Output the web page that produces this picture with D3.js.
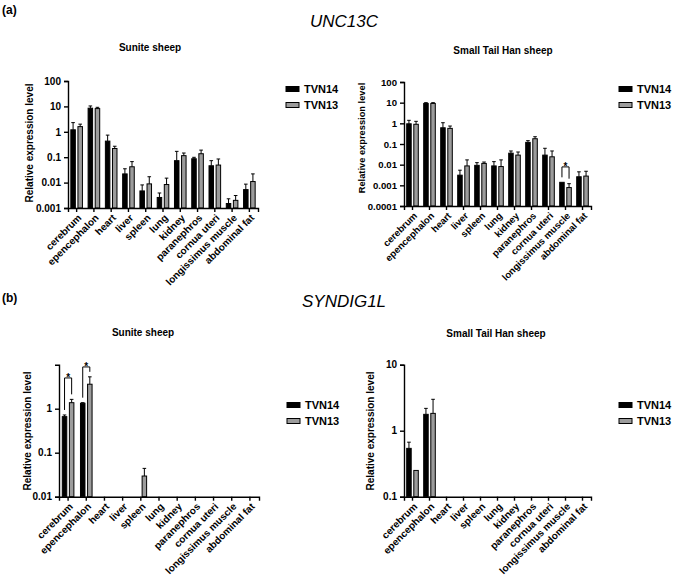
<!DOCTYPE html>
<html>
<head>
<meta charset="utf-8">
<script src="https://cdn.jsdelivr.net/npm/d3@7"></script>
<style>
  html, body { margin: 0; padding: 0; background: #fff; }
  svg { display: block; font-family: "Liberation Sans", Arial, sans-serif; }
</style>
</head>
<body>
<svg id="chart" width="689" height="578"></svg>
<script>
// ---------------- DATA ----------------
const categories = ["cerebrum", "epencephalon", "heart", "liver", "spleen", "lung", "kidney", "paranephros", "cornua uteri", "longissimus muscle", "abdominal fat"];
const seriesNames = ["TVN14", "TVN13"];

// UNC13C - Sunite sheep
const unc13cSuniteTVN14    = [1.2, 8.5, 0.43, 0.022, 0.0047, 0.0026, 0.073, 0.087, 0.046, 0.0015, 0.0053];
const unc13cSuniteTVN14Err = [2.3, 10.4, 0.74, 0.035, 0.0081, 0.0039, 0.17, 0.099, 0.073, 0.0023, 0.0087];
const unc13cSuniteTVN13    = [1.6, 8.2, 0.22, 0.042, 0.0089, 0.0084, 0.115, 0.137, 0.049, 0.0020, 0.011];
const unc13cSuniteTVN13Err = [2.0, 9.2, 0.27, 0.067, 0.017, 0.015, 0.146, 0.19, 0.085, 0.0031, 0.022];

// UNC13C - Small Tail Han sheep
const unc13cSTHTVN14    = [0.95, 9.2, 0.61, 0.0031, 0.0093, 0.0087, 0.036, 0.12, 0.029, 0.0014, 0.0026];
const unc13cSTHTVN14Err = [1.4, 10.0, 1.07, 0.0054, 0.0125, 0.014, 0.046, 0.145, 0.062, null, 0.0045];
const unc13cSTHTVN13    = [0.9, 9.2, 0.57, 0.0087, 0.0115, 0.0081, 0.029, 0.18, 0.024, 0.00078, 0.0028];
const unc13cSTHTVN13Err = [1.25, 10.0, 0.74, 0.017, 0.0134, 0.017, 0.041, 0.225, 0.046, 0.0012, 0.0048];

// SYNDIG1L - Sunite sheep
const syndigSuniteTVN14    = [0.66, 1.33, null, null, null, null, null, null, null, null, null];
const syndigSuniteTVN14Err = [0.72, 1.37, null, null, null, null, null, null, null, null, null];
const syndigSuniteTVN13    = [1.37, 3.6, null, null, 0.0295, null, null, null, null, null, null];
const syndigSuniteTVN13Err = [1.63, 5.3, null, null, 0.044, null, null, null, null, null, null];

// SYNDIG1L - Small Tail Han sheep
const syndigSTHTVN14    = [0.54, 1.77, null, null, null, null, null, null, null, null, null];
const syndigSTHTVN14Err = [0.67, 2.18, null, null, null, null, null, null, null, null, null];
const syndigSTHTVN13    = [0.25, 1.83, null, null, null, null, null, null, null, null, null];
const syndigSTHTVN13Err = [null, 2.99, null, null, null, null, null, null, null, null, null];

// tick values / labels
const ticksA1 = [100, 10, 1, 0.1, 0.01, 0.001];
const tickLabelsA1 = ["100", "10", "1", "0.1", "0.01", "0.001"];
const ticksA2 = [100, 10, 1, 0.1, 0.01, 0.001, 0.0001];
const tickLabelsA2 = ["100", "10", "1", "0.1", "0.01", "0.001", "0.0001"];
const ticksB1 = [1, 0.1, 0.01];
const tickLabelsB1 = ["1", "0.1", "0.01"];
const ticksB2 = [10, 1, 0.1];
const tickLabelsB2 = ["10", "1", "0.1"];

// significance annotations (bracket level in data units)
const sigA2 = [{ category: "longissimus muscle", level: 0.0078, label: "*" }];
const sigB1 = [{ category: "cerebrum", level: 5.0, label: "*" }, { category: "epencephalon", level: 8.9, label: "*" }];

// ---------------- DRAWING ----------------
const svg = d3.select("#chart");
const FONT = '"Liberation Sans", Arial, sans-serif';
const GRAY = "#9c9c9c";

function drawPanel(cfg) {
  const g = svg.append("g");
  const x = d3.scaleBand().domain(categories).range([cfg.x0, cfg.x1]).padding(0);
  const y = d3.scaleLog().domain(cfg.domain).range([cfg.yBottom, cfg.yTop]);
  const barW = 4.5, gap = 2.6;
  const tickFont = cfg.tickFont || 10;

  const series = [
    { name: seriesNames[0], vals: cfg.s1, errs: cfg.e1, fill: "#000", off: -gap / 2 - barW },
    { name: seriesNames[1], vals: cfg.s2, errs: cfg.e2, fill: GRAY, off: gap / 2 }
  ];
  series.forEach(s => {
    const data = categories.map((c, i) => ({ c, v: s.vals[i], e: s.errs[i] })).filter(d => d.v != null);
    g.selectAll(null).data(data).enter().append("rect")
      .attr("x", d => x(d.c) + x.bandwidth() / 2 + s.off)
      .attr("y", d => y(d.v))
      .attr("width", barW)
      .attr("height", d => cfg.yBottom - y(d.v))
      .attr("fill", s.fill)
      .attr("stroke", "#000")
      .attr("stroke-width", 1);
    const ed = data.filter(d => d.e != null);
    g.selectAll(null).data(ed).enter().append("line")
      .attr("x1", d => x(d.c) + x.bandwidth() / 2 + s.off + barW / 2)
      .attr("x2", d => x(d.c) + x.bandwidth() / 2 + s.off + barW / 2)
      .attr("y1", d => y(d.v)).attr("y2", d => y(d.e))
      .attr("stroke", "#000").attr("stroke-width", 1);
    g.selectAll(null).data(ed).enter().append("line")
      .attr("x1", d => x(d.c) + x.bandwidth() / 2 + s.off + barW / 2 - 1.8)
      .attr("x2", d => x(d.c) + x.bandwidth() / 2 + s.off + barW / 2 + 1.8)
      .attr("y1", d => y(d.e)).attr("y2", d => y(d.e))
      .attr("stroke", "#000").attr("stroke-width", 1);
  });

  (cfg.sig || []).forEach(sg => {
    const i = categories.indexOf(sg.category);
    const cx = x(sg.category) + x.bandwidth() / 2;
    const xa = cx + series[0].off + barW / 2;
    const xb = cx + series[1].off + barW / 2;
    const topA = y(cfg.e1[i] != null ? cfg.e1[i] : cfg.s1[i]) - 5;
    const topB = y(cfg.e2[i] != null ? cfg.e2[i] : cfg.s2[i]) - 5;
    const by = y(sg.level);
    g.append("path")
      .attr("d", `M${xa},${topA}V${by}H${xb}V${topB}`)
      .attr("fill", "none").attr("stroke", "#000").attr("stroke-width", 1);
    g.append("text").attr("x", (xa + xb) / 2).attr("y", by + 3)
      .attr("text-anchor", "middle").attr("font-size", 10).attr("font-weight", "bold")
      .text(sg.label);
  });

  const yAxis = g.append("g").attr("transform", `translate(${cfg.x0},0)`)
    .call(d3.axisLeft(y).tickValues(cfg.ticks).tickFormat((d, i) => cfg.tickLabels[i]).tickSizeOuter(0).tickSize(4).tickPadding(3));
  yAxis.select(".domain").attr("stroke-width", 1.4);
  yAxis.selectAll(".tick line").attr("stroke-width", 1.4);
  yAxis.selectAll("text").attr("font-size", tickFont).attr("font-weight", "bold").attr("font-family", FONT).attr("fill", "#000");

  const xAxis = g.append("g").attr("transform", `translate(0,${cfg.yBottom})`)
    .call(d3.axisBottom(x).tickSizeOuter(0).tickSize(4).tickFormat(""));
  xAxis.select(".domain").attr("stroke-width", 1.4);
  xAxis.selectAll(".tick line").attr("stroke-width", 1.4);
  g.selectAll(null).data(categories).enter().append("text")
    .attr("transform", d => `translate(${x(d) + x.bandwidth() / 2 + 3},${cfg.yBottom + 8}) rotate(-45)`)
    .attr("text-anchor", "end").attr("dy", "0.35em")
    .attr("font-size", tickFont).attr("font-weight", "bold").attr("fill", "#000")
    .text(d => d);

  g.append("text")
    .attr("transform", `translate(${cfg.ylx},${cfg.yly}) rotate(-90)`)
    .attr("text-anchor", "middle").attr("dy", "0.35em")
    .attr("font-size", cfg.ylFont || 10).attr("font-weight", "bold")
    .text("Relative expression level");

  g.append("text").attr("x", cfg.tx).attr("y", cfg.ty).attr("text-anchor", "middle")
    .attr("font-size", 10).attr("font-weight", "bold").text(cfg.title);

  series.forEach((s, k) => {
    const ly = cfg.legY + k * 16;
    g.append("rect").attr("x", cfg.legX).attr("y", ly - 2.5).attr("width", 13).attr("height", 5)
      .attr("fill", s.fill).attr("stroke", "#000").attr("stroke-width", 1);
    g.append("text").attr("x", cfg.legX + 18).attr("y", ly).attr("dy", "0.36em")
      .attr("font-size", 11).attr("font-weight", "bold").text(s.name);
  });
}

svg.append("text").attr("x", 2).attr("y", 14).attr("font-size", 12).attr("font-weight", "bold").text("(a)");
svg.append("text").attr("x", 344).attr("y", 27).attr("text-anchor", "middle").attr("font-size", 17).attr("font-style", "italic").text("UNC13C");
svg.append("text").attr("x", 2).attr("y", 302).attr("font-size", 12).attr("font-weight", "bold").text("(b)");
svg.append("text").attr("x", 344).attr("y", 307).attr("text-anchor", "middle").attr("font-size", 17).attr("font-style", "italic").text("SYNDIG1L");

drawPanel({ x0: 68, x1: 258, yTop: 81, yBottom: 208, domain: [0.001, 100], ticks: ticksA1, tickLabels: tickLabelsA1,
  s1: unc13cSuniteTVN14, e1: unc13cSuniteTVN14Err, s2: unc13cSuniteTVN13, e2: unc13cSuniteTVN13Err,
  ylx: 29, yly: 143, title: "Sunite sheep", tx: 150, ty: 51, legX: 286, legY: 89 });

drawPanel({ x0: 404, x1: 591, yTop: 82, yBottom: 206, domain: [0.0001, 100], ticks: ticksA2, tickLabels: tickLabelsA2,
  s1: unc13cSTHTVN14, e1: unc13cSTHTVN14Err, s2: unc13cSTHTVN13, e2: unc13cSTHTVN13Err, sig: sigA2,
  ylx: 362, yly: 138, ylFont: 9.3, tickFont: 9.6, title: "Small Tail Han sheep", tx: 503, ty: 54, legX: 619, legY: 89 });

drawPanel({ x0: 59, x1: 259, yTop: 364.7, yBottom: 496.7, domain: [0.01, 10], ticks: ticksB1, tickLabels: tickLabelsB1,
  s1: syndigSuniteTVN14, e1: syndigSuniteTVN14Err, s2: syndigSuniteTVN13, e2: syndigSuniteTVN13Err, sig: sigB1,
  ylx: 27, yly: 431, title: "Sunite sheep", tx: 143, ty: 336, legX: 287, legY: 405 });

drawPanel({ x0: 404, x1: 591, yTop: 364.7, yBottom: 496.7, domain: [0.1, 10], ticks: ticksB2, tickLabels: tickLabelsB2,
  s1: syndigSTHTVN14, e1: syndigSTHTVN14Err, s2: syndigSTHTVN13, e2: syndigSTHTVN13Err,
  ylx: 370, yly: 431, title: "Small Tail Han sheep", tx: 496, ty: 337, legX: 619, legY: 405 });
</script>
</body>
</html>
